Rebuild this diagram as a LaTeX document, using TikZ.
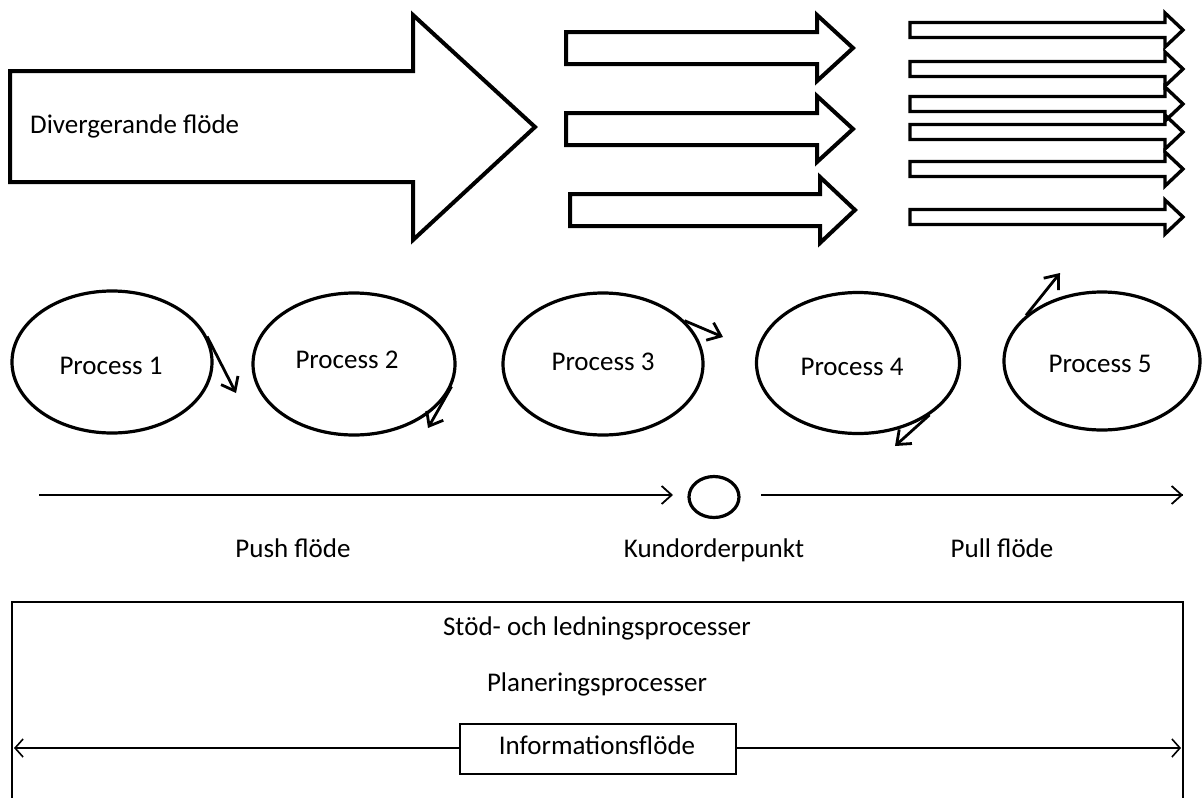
\documentclass[tikz,border=0pt]{standalone}
\usepackage{fontspec}
\setmainfont{Carlito}
\usetikzlibrary{arrows.meta,shapes.geometric}
\tikzset{
  bigoutline/.style={draw=black, line width=4pt, line join=miter},
  thinoutline/.style={draw=black, line width=3.4pt, line join=miter},
  procshape/.style={ellipse, draw=black, line width=3.2pt, minimum width=200pt, minimum height=142pt, inner sep=0pt},
  procarrow/.style={line width=2.8pt, -{Straight Barb[length=12pt,width=19pt,line width=2.8pt]}},
  flowline/.style={line width=2pt, -{Straight Barb[length=10pt,width=18pt,line width=1.8pt]}},
  lbl/.style={font=\fontsize{27}{32}\selectfont, inner sep=0pt, text height=18pt, text depth=6pt},
  kpshape/.style={ellipse, draw=black, line width=3.2pt, minimum width=50pt, minimum height=41pt, inner sep=0pt},
  infobox/.style={draw=black, line width=2pt, minimum width=276pt, minimum height=50pt, inner sep=0pt},
  infoarrow/.style={line width=2pt, -{Straight Barb[length=8pt,width=18pt,line width=1.6pt]}}
}
\begin{document}
\begin{tikzpicture}[x=1pt,y=-1pt]
\useasboundingbox (0,0) rectangle (1203,798);
% big divergent arrow
\draw[bigoutline] (10,71) -- (413,71) -- (413,15) -- (535,127) -- (413,240) -- (413,182) -- (10,182) -- cycle;
\node[lbl, anchor=west] (div) at (30,127) {Divergerande flöde};
% middle arrows
\foreach \yc/\xl/\xb/\xt in {48/566/817/853, 129/566/817/853, 210/570/820/855}{
  \draw[bigoutline] (\xl,\yc-16) -- (\xb,\yc-16) -- (\xb,\yc-33) -- (\xt,\yc) -- (\xb,\yc+33) -- (\xb,\yc+16) -- (\xl,\yc+16) -- cycle;
}
% right arrows
\foreach \yc in {30,69,104,132,169,217}{
  \draw[thinoutline] (910,\yc-7.5) -- (1165,\yc-7.5) -- (1165,\yc-17) -- (1183,\yc) -- (1165,\yc+17) -- (1165,\yc+7.5) -- (910,\yc+7.5) -- cycle;
}
% processes
\node[procshape] (p1) at (112,362) {};
\node[procshape, minimum width=202pt] (p2) at (354,364) {};
\node[procshape] (p3) at (603,364) {};
\node[procshape, minimum width=203pt, minimum height=141pt] (p4) at (858,363) {};
\node[procshape, minimum width=196pt, minimum height=138pt] (p5) at (1102,361) {};
\node[lbl] (t1) at (111,368) {Process 1};
\node[lbl] (t2) at (347,362) {Process 2};
\node[lbl] (t3) at (603,364) {Process 3};
\node[lbl] (t4) at (852,369) {Process 4};
\node[lbl] (t5) at (1100,366) {Process 5};
\coordinate (a1) at (236,393);
\coordinate (a2) at (428,428);
\coordinate (a3) at (723,337);
\coordinate (a4) at (895,446);
\coordinate (a5) at (1060,273);
\draw[procarrow] (p1.15) -- (a1);
\draw[procarrow] (p2.-13) -- (a2);
\draw[procarrow] (p3.28) -- (a3);
\draw[procarrow] (p4.-36) -- (a4);
\draw[procarrow] (p5.149) -- (a5);
% push / pull flow
\node[kpshape] (kp) at (714,497) {};
\coordinate (pushstart) at (39,495);
\coordinate (pushend) at (673,495);
\coordinate (pullstart) at (761,495);
\coordinate (pullend) at (1183,495);
\draw[flowline] (pushstart) -- (pushend);
\draw[line width=2pt] (pullstart) -- (pullend);
\draw[flowline] ([xshift=-12pt]pullend) -- (pullend);
\node[lbl] (push) at (293,551) {Push flöde};
\node[lbl] (kundorder) at (714,551) {Kundorderpunkt};
\node[lbl] (pull) at (1002,551) {Pull flöde};
% support box
\draw[line width=2pt] (12,800) -- (12,602) -- (1183,602) -- (1183,800);
\node[lbl] (stod) at (597,629) {Stöd- och ledningsprocesser};
\node[lbl] (plan) at (597,685) {Planeringsprocesser};
\node[infobox] (info) at (598,749) {};
\node[lbl] (infotext) at (597,748) {Informationsflöde};
\coordinate (infoleft) at (14,748);
\coordinate (inforight) at (1181,748);
\draw[infoarrow] (info.west |- infoleft) -- (infoleft);
\draw[infoarrow] (info.east |- inforight) -- (inforight);
\end{tikzpicture}
\end{document}
